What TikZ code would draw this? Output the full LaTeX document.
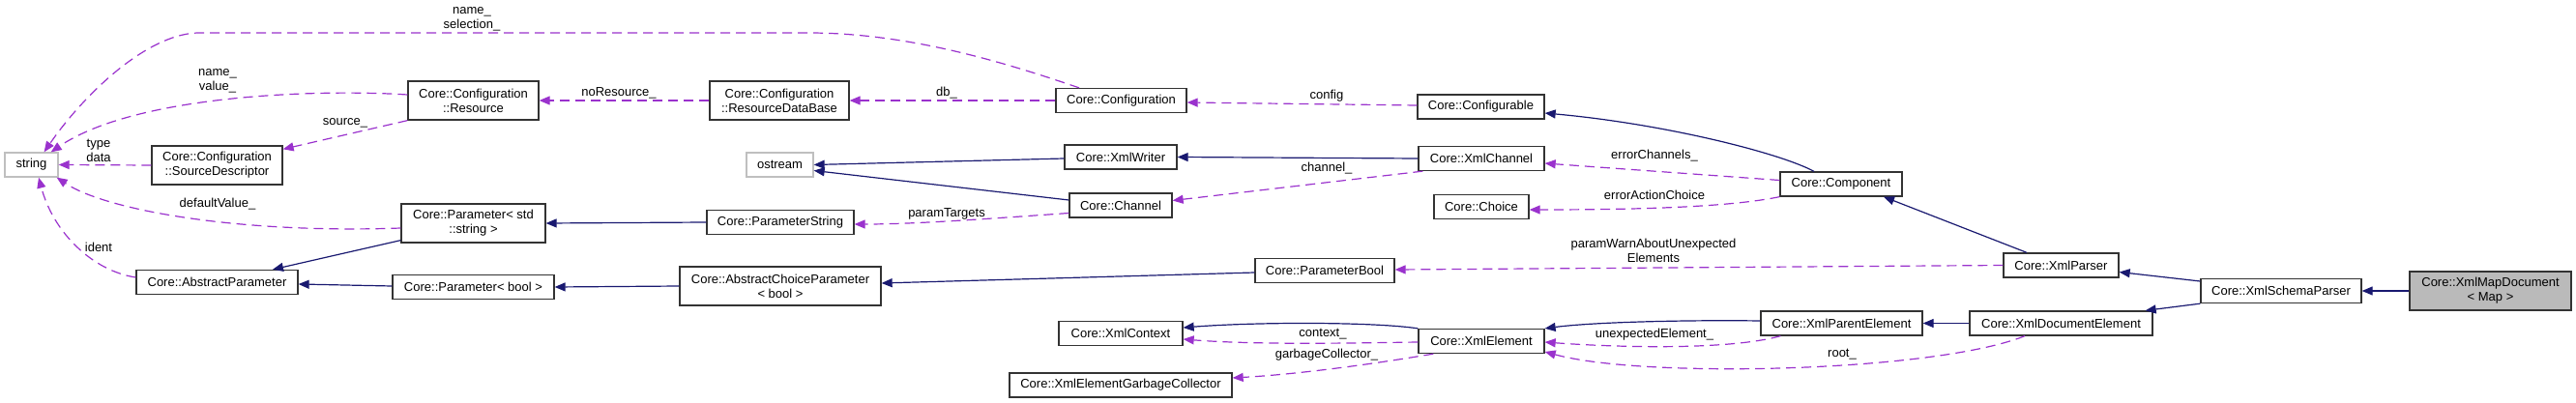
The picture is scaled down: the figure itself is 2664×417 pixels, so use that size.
\documentclass[tikz,border=0pt]{standalone}
\usepackage{fontspec}
\setmainfont{Liberation Sans}
\usetikzlibrary{arrows.meta}
\definecolor{midnight}{HTML}{191970}
\definecolor{orchid}{HTML}{9A32CD}

\begin{document}
\begin{tikzpicture}[x=1pt, y=-1pt,
  box/.style={draw=black!80, line width=1.3pt, fill=white, inner sep=0pt,
    align=center, font=\fontsize{13}{15}\selectfont},
  extbox/.style={box, draw=black!25},
  mainbox/.style={box, fill=black!27},
  one/.style={minimum height=25pt},
  two/.style={minimum height=40pt},
  lbl/.style={inner sep=0pt, align=center, font=\fontsize{13}{15}\selectfont},
  inh/.style={draw=midnight, line width=1.2pt, -{Triangle[length=11pt,width=9pt]}},
  use/.style={draw=orchid, line width=1.2pt, dash pattern=on 10pt off 6pt,
    -{Triangle[length=11pt,width=9pt]}}]
\useasboundingbox (0,0) rectangle (2664,417);
% classes, left to right
\node[extbox, one, minimum width=55pt] (str) at (32.5,170.5) {string};
\node[box, two, minimum width=135pt] (srcdesc) at (224.5,171) {Core::Configuration\\::SourceDescriptor};
\node[box, two, minimum width=135pt] (res) at (489.5,104) {Core::Configuration\\::Resource};
\node[box, two, minimum width=149pt] (pstr) at (489.5,231) {Core::Parameter< std\\::string >};
\node[box, one, minimum width=167pt] (absparam) at (224.5,292) {Core::AbstractParameter};
\node[box, one, minimum width=167pt] (pbool) at (489.5,297) {Core::Parameter< bool >};
\node[box, two, minimum width=144pt] (resdb) at (806,104) {Core::Configuration\\::ResourceDataBase};
\node[extbox, one, minimum width=69pt] (ostr) at (806.5,170.5) {ostream};
\node[box, one, minimum width=152pt] (parstring) at (807,230) {Core::ParameterString};
\node[box, two, minimum width=208pt] (abschoice) at (807,296) {Core::AbstractChoiceParameter\\< bool >};
\node[box, one, minimum width=135pt] (conf) at (1159.5,104) {Core::Configuration};
\node[box, one, minimum width=116pt] (xwriter) at (1159,162.5) {Core::XmlWriter};
\node[box, one, minimum width=106pt] (chan) at (1159,212.5) {Core::Channel};
\node[box, one, minimum width=144pt] (parbool) at (1370,280) {Core::ParameterBool};
\node[box, one, minimum width=128pt] (xctx) at (1159,345) {Core::XmlContext};
\node[box, one, minimum width=230pt] (xgc) at (1159,398.5) {Core::XmlElementGarbageCollector};
\node[box, one, minimum width=131pt] (cfgable) at (1531.5,110.5) {Core::Configurable};
\node[box, one, minimum width=130pt] (xchan) at (1532,164) {Core::XmlChannel};
\node[box, one, minimum width=98pt] (choice) at (1532,214) {Core::Choice};
\node[box, one, minimum width=130pt] (xelem) at (1532,353) {Core::XmlElement};
\node[box, one, minimum width=126pt] (comp) at (1904,190.5) {Core::Component};
\node[box, one, minimum width=167pt] (xparent) at (1904.5,334.5) {Core::XmlParentElement};
\node[box, one, minimum width=119pt] (xparser) at (2131.5,274.5) {Core::XmlParser};
\node[box, one, minimum width=189pt] (xdocel) at (2131.5,334.5) {Core::XmlDocumentElement};
\node[box, one, minimum width=166pt] (xschema) at (2359,301) {Core::XmlSchemaParser};
\node[mainbox, two, minimum width=167pt] (xmap) at (2575.5,301) {Core::XmlMapDocument\\< Map >};
% inheritance
\draw[inh] ([xshift=-28pt]comp.north) .. controls (1840,158) and (1720,128) .. ([yshift=-6.5pt]cfgable.east);
\draw[inh] (xchan.west) -- (xwriter.east);
\draw[inh] ([yshift=-1.5pt]xwriter.west) -- (ostr.east);
\draw[inh] ([yshift=5.5pt]chan.west) -- ([yshift=-6pt]ostr.east);
\draw[inh] ([yshift=3pt]pstr.south west) -- ([xshift=57.5pt]absparam.north);
\draw[inh] ([yshift=1pt]pbool.west) -- ([yshift=-2pt]absparam.east);
\draw[inh] (parstring.west) -- (pstr.east);
\draw[inh] (abschoice.west) -- (pbool.east);
\draw[inh] ([yshift=-2pt]parbool.west) -- ([yshift=3pt]abschoice.east);
\draw[inh] ([xshift=-35.5pt]xparser.north) -- ([xshift=44pt]comp.south);
\draw[inh] ([yshift=10pt]xschema.west) -- ([yshift=-7pt]xparser.east);
\draw[inh] (xschema.south west) -- ([xshift=-8pt]xdocel.north east);
\draw[inh] (xmap.west) -- (xschema.east);
\draw[inh] (xdocel.west) -- (xparent.east);
\draw[inh] ([yshift=2.5pt]xparent.west) .. controls (1750,331) and (1650,333) .. (xelem.north east);
\draw[inh] (xelem.north west) .. controls (1420,333) and (1300,333) .. ([yshift=6pt]xctx.east);
% usage
\draw[use] ([xshift=-43.5pt]conf.north) .. controls (1040,65) and (940,34) .. (836,34)
  -- (204,34) .. controls (150,36) and (85,100) .. ([xshift=-15pt]str.north east);
\draw[use] ([yshift=6pt]res.west) .. controls (330,92) and (140,98) .. ([xshift=-8pt]str.north east);
\draw[use] (srcdesc.west) -- (str.east);
\draw[use] ([yshift=-5pt]pstr.west) .. controls (250,242) and (110,218) .. ([xshift=-2pt]str.south east);
\draw[use] ([yshift=5pt]absparam.west) .. controls (95,280) and (55,240) .. ([xshift=7.5pt]str.south);
\draw[use] (res.south west) -- ([yshift=-4pt]srcdesc.north east);
\draw[use] (resdb.west) -- (res.east);
\draw[use] (conf.west) -- (resdb.east);
\draw[use] ([yshift=1.5pt]cfgable.west) -- ([yshift=-2pt]conf.east);
\draw[use] ([xshift=5pt]xchan.south west) -- ([yshift=5pt]chan.east);
\draw[use] ([yshift=-8pt]chan.west) .. controls (1000,228) and (940,232) .. ([yshift=-2pt]parstring.east);
\draw[use] ([yshift=4pt]comp.west) -- ([yshift=-5pt]xchan.east);
\draw[use] (comp.south west) .. controls (1790,214) and (1700,217) .. ([yshift=-3pt]choice.east);
\draw[use] (xparser.west) -- ([yshift=1pt]parbool.east);
\draw[use] ([yshift=-1pt]xelem.west) .. controls (1400,355) and (1300,357) .. ([yshift=-6pt]xctx.east);
\draw[use] ([xshift=16pt]xelem.south west) .. controls (1400,380) and (1330,388) .. ([yshift=7.5pt]xgc.east);
\draw[use] ([xshift=21pt]xparent.south west) .. controls (1790,362) and (1680,360) .. ([yshift=-1pt]xelem.east);
\draw[use] ([xshift=-37.5pt]xdocel.south) .. controls (2000,385) and (1700,392) .. ([yshift=-11pt]xelem.east);
% member names
\node[lbl] (lsel) at (488,19.5) {name\_\\selection\_};
\node[lbl] (lval) at (225,83.5) {name\_\\value\_};
\node[lbl] (ltype) at (102,155.5) {type\\data};
\node[lbl] (ldef) at (225,211) {defaultValue\_};
\node[lbl] (lident) at (102,256) {ident};
\node[lbl] (lsrc) at (357,127) {source\_};
\node[lbl] (lnores) at (640,96) {noResource\_};
\node[lbl] (ldb) at (979,96) {db\_};
\node[lbl] (lcfg) at (1372,99) {config};
\node[lbl] (lchan) at (1372,174) {channel\_};
\node[lbl] (ltgt) at (979,221) {paramTargets};
\node[lbl] (lerrch) at (1711,161) {errorChannels\_};
\node[lbl] (lerrac) at (1711,202) {errorActionChoice};
\node[lbl] (lwarn) at (1710,259.5) {paramWarnAboutUnexpected\\Elements};
\node[lbl] (lctx) at (1368,346) {context\_};
\node[lbl] (lgc) at (1372,367) {garbageCollector\_};
\node[lbl] (lunexp) at (1711,346) {unexpectedElement\_};
\node[lbl] (lroot) at (1905,367) {root\_};
\end{tikzpicture}
\end{document}
